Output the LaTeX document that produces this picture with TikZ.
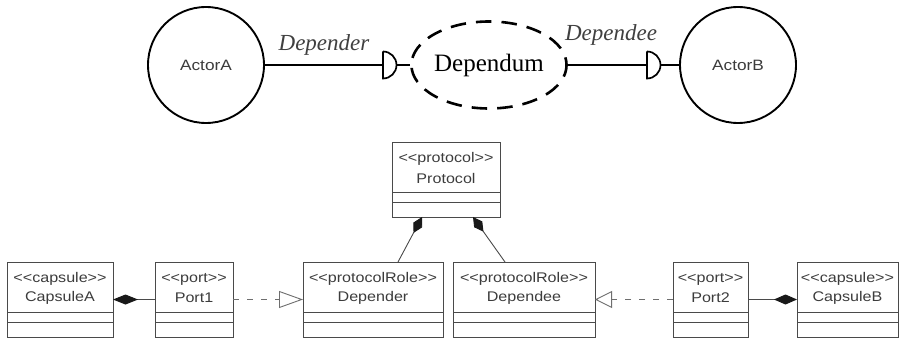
\documentclass[tikz,border=0pt]{standalone}
\usepackage{fontspec}
\setmainfont{Liberation Serif}
\newfontfamily\umlfont[FakeStretch=1.15]{Liberation Sans}
\usetikzlibrary{calc,shapes.geometric,arrows.meta}
\definecolor{umlgray}{HTML}{4A4A4A}
\definecolor{umltext}{HTML}{3C3C3C}

% stereotype in guillemet-free form
\newcommand\stereo[1]{<\kern0pt<#1>\kern0pt>}

% UML class box: name, left x, top y, width, stereotype, title
\newcommand\umlclass[6]{%
  \node[classbox, minimum width=#4pt, anchor=north west] (#1) at (#2,#3) {};
  \draw[classline] ($(#1.north west)+(0,-50)$) -- ($(#1.north east)+(0,-50)$);
  \draw[classline] ($(#1.north west)+(0,-60)$) -- ($(#1.north east)+(0,-60)$);
  \node[classtext] (#1-st) at ($(#1.north)+(0,-17)$) {\stereo{#5}};
  \node[classtext] (#1-nm) at ($(#1.north)+(0,-36)$) {#6};
}

\tikzset{
  actor/.style={circle, draw=black, line width=1.9pt, minimum size=116pt,
    inner sep=0pt, font=\umlfont\fontsize{15}{17}\selectfont, text=umltext},
  dependum/.style={ellipse, draw=black, line width=2.6pt,
    dash pattern=on 15.5pt off 10.07pt, dash phase=7.75pt,
    minimum width=138pt, minimum height=87pt, inner sep=0pt,
    font=\fontsize{25}{28}\selectfont},
  rolelabel/.style={font=\itshape\fontsize{23}{26}\selectfont, text=black!75, inner sep=0pt},
  link/.style={line width=1.7pt, draw=black},
  classbox/.style={draw=umlgray, line width=0.9pt, minimum height=75pt,
    inner sep=0pt, outer sep=0pt},
  classline/.style={draw=umlgray, line width=0.9pt},
  classtext/.style={font=\umlfont\fontsize{14}{16}\selectfont, text=umltext, inner sep=0pt},
  composition/.style={draw=umlgray, line width=0.9pt,
    -{Diamond[color=black!90, fill=black!90, length=#1, width=10pt]}},
  realize/.style={draw=umlgray!80, line width=0.9pt, dash pattern=on 6pt off 8pt,
    -{Triangle[open, length=#1, width=17pt, line width=0.9pt]}},
}

\begin{document}
\begin{tikzpicture}[x=1pt, y=1pt]
\useasboundingbox[fill=white] (0,0) rectangle (902,-339);

% actors and the dependum
\node[actor] (actorA) at (206,-65) {ActorA};
\node[actor] (actorB) at (738,-65) {ActorB};
\node[dependum] (dependum) at (489,-65) {Dependum};

% depender side
\coordinate (sockA) at (383,-65);
\draw[link] (actorA.east) -- (sockA);
\draw[link] ($(sockA)+(0,13.5)$) -- ($(sockA)+(0,-13.5)$)
  arc[start angle=-90, end angle=90, radius=13.5pt];
\draw[link] ($(sockA)+(13.5,0)$) -- (dependum.west);
\node[rolelabel] (lblA) at (324,-45) {Depender};

% dependee side
\coordinate (sockB) at (647,-65);
\draw[link] (dependum.east) -- (sockB);
\draw[link] ($(sockB)+(0,13.5)$) -- ($(sockB)+(0,-13.5)$)
  arc[start angle=-90, end angle=90, radius=13.5pt];
\draw[link] ($(sockB)+(13.5,0)$) -- (actorB.west);
\node[rolelabel] (lblB) at (611,-35) {Dependee};

% class boxes
\umlclass{protocol}{392}{-142}{108}{protocol}{Protocol}
\umlclass{capsuleA}{7}{-262}{106}{capsule}{CapsuleA}
\umlclass{port1}{155}{-262}{78}{port}{Port1}
\umlclass{depender}{303}{-262}{140}{protocolRole}{Depender}
\umlclass{dependee}{453}{-262}{142}{protocolRole}{Dependee}
\umlclass{port2}{673}{-262}{75}{port}{Port2}
\umlclass{capsuleB}{797}{-262}{101}{capsule}{CapsuleB}

% compositions
\draw[composition=18pt] ($(depender.north west)+(95,0)$) -- ($(protocol.south west)+(30,0)$);
\draw[composition=18pt] ($(dependee.north west)+(52,0)$) -- ($(protocol.south west)+(81,0)$);
\draw[composition=25pt] (port1.west) -- (capsuleA.east);
\draw[composition=23pt] (port2.east) -- (capsuleB.west);

% realizations
\draw[realize=24pt] (port1.east) -- (depender.west);
\draw[realize=17pt] (port2.west) -- (dependee.east);
\end{tikzpicture}
\end{document}
